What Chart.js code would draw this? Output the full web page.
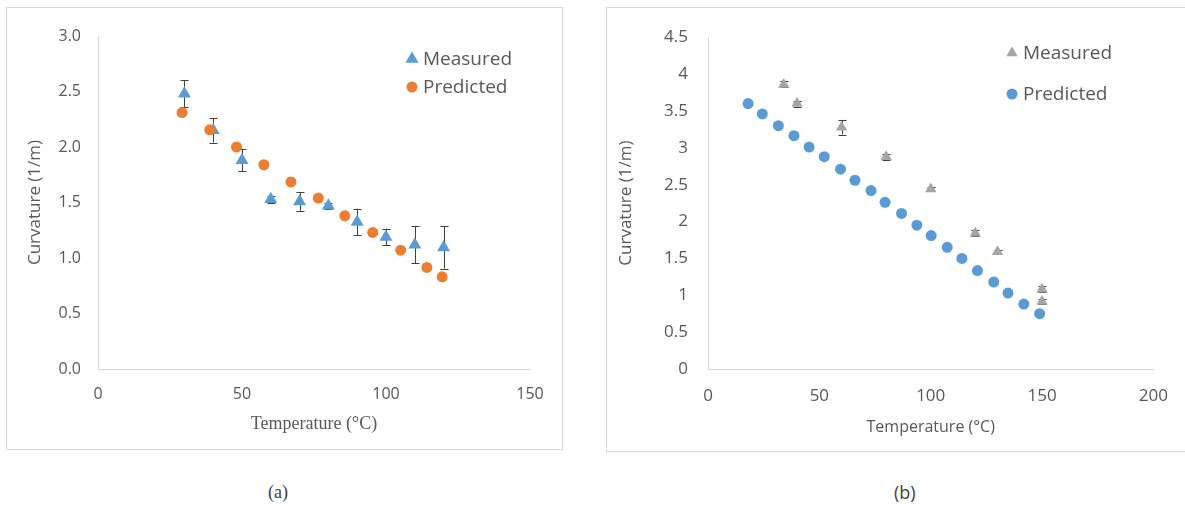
<!DOCTYPE html>
<html>
<head>
<meta charset="utf-8">
<script src="https://cdn.jsdelivr.net/npm/chart.js@4.4.0/dist/chart.umd.min.js"></script>
<style>
body { margin: 0; background: #fff; width: 1185px; height: 506px; overflow: hidden; position: relative; }
.frame { position: absolute; border: 1px solid #d9d9d9; box-sizing: border-box; }
canvas { position: absolute; }
.cap { position: absolute; color: #404040; font-size: 18px; }
</style>
</head>
<body>
<div class="frame" style="left:6px;top:7px;width:557px;height:443px"></div>
<div class="frame" style="left:606px;top:7px;width:620px;height:445px"></div>
<canvas id="chartA" width="557" height="443" style="left:6px;top:7px"></canvas>
<canvas id="chartB" width="579" height="445" style="left:606px;top:7px"></canvas>
<div class="cap" style="left:268px;top:482px;font-family:'Liberation Serif'">(a)</div>
<div class="cap" style="left:894px;top:480px;font-family:'Open Sans'">(b)</div>
<script>
// (a) data
const tempMeasuredA = [30, 40, 50, 60, 70, 80, 90, 100, 110, 120];
const curvMeasuredA = [2.48, 2.15, 1.88, 1.53, 1.51, 1.47, 1.325, 1.19, 1.12, 1.095];
const errMeasuredA = [0.12, 0.11, 0.1, 0.03, 0.085, 0.03, 0.12, 0.075, 0.165, 0.19];
const tempPredictedA = [29.2, 38.8, 48.1, 57.6, 67.0, 76.5, 85.7, 95.4, 105.1, 114.2, 119.5];
const curvPredictedA = [2.31, 2.155, 2.0, 1.84, 1.685, 1.54, 1.38, 1.23, 1.07, 0.915, 0.83];

// (b) data
const tempMeasuredB = [34, 40, 60, 80, 100, 120, 130, 150, 150];
const curvMeasuredB = [3.86, 3.60, 3.28, 2.88, 2.44, 1.84, 1.59, 1.08, 0.915];
const errMeasuredB = [0.04, 0.04, 0.1, 0.04, 0.03, 0.04, 0.03, 0.04, 0.04];
const tempPredictedB = [18, 24.4, 31.6, 38.6, 45.4, 52.2, 59.5, 66.0, 73.2, 79.5, 86.9, 93.8, 100.2, 107.4, 114.0, 121.0, 128.3, 134.7, 141.8, 148.9];
const curvPredictedB = [3.60, 3.46, 3.30, 3.165, 3.01, 2.88, 2.71, 2.56, 2.42, 2.26, 2.11, 1.95, 1.81, 1.65, 1.50, 1.335, 1.18, 1.03, 0.88, 0.75];

const seriesNames = ['Measured', 'Predicted'];
const BLUE = '#5b9bd5', ORANGE = '#ed7d31', GREY = '#a5a5a5', TEXT = '#595959';

function toPoints(xs, ys) {
    return xs.map((x, i) => ({ x: x, y: ys[i] }));
}

function drawMarker(ctx, style, x, y, r, color) {
    ctx.save();
    ctx.fillStyle = color;
    ctx.beginPath();
    if (style === 'triangle') {
        ctx.moveTo(x, y - r);
        ctx.lineTo(x + r * Math.sin(2 * Math.PI / 3), y + r / 2);
        ctx.lineTo(x - r * Math.sin(2 * Math.PI / 3), y + r / 2);
        ctx.closePath();
    } else {
        ctx.arc(x, y, r, 0, Math.PI * 2);
    }
    ctx.fill();
    ctx.restore();
}

// vertical error bars for one dataset, drawn under the markers
const errorBars = {
    id: 'errorBars',
    beforeDatasetsDraw(chart, args, opts) {
        const ctx = chart.ctx;
        const xs = chart.scales.x, ys = chart.scales.y;
        const data = chart.data.datasets[opts.datasetIndex].data;
        ctx.save();
        ctx.strokeStyle = opts.color;
        ctx.lineWidth = 1;
        data.forEach((p, i) => {
            const e = opts.errors[i];
            const px = Math.round(xs.getPixelForValue(p.x)) + 0.5;
            const top = ys.getPixelForValue(p.y + e);
            const bot = ys.getPixelForValue(p.y - e);
            ctx.beginPath();
            ctx.moveTo(px, top);
            ctx.lineTo(px, bot);
            ctx.moveTo(px - opts.cap, Math.round(top) + 0.5);
            ctx.lineTo(px + opts.cap, Math.round(top) + 0.5);
            ctx.moveTo(px - opts.cap, Math.round(bot) + 0.5);
            ctx.lineTo(px + opts.cap, Math.round(bot) + 0.5);
            ctx.stroke();
        });
        ctx.restore();
    }
};

// legend inside the plot, top right
const insideLegend = {
    id: 'insideLegend',
    afterDraw(chart, args, opts) {
        const ctx = chart.ctx;
        ctx.save();
        ctx.font = opts.font;
        ctx.fillStyle = TEXT;
        ctx.textBaseline = 'middle';
        opts.items.forEach((it, i) => {
            const y = opts.y + i * opts.gap;
            drawMarker(ctx, it.style, opts.x, y, it.r, it.color);
            ctx.fillText(it.text, opts.x + 11, y + 1);
        });
        ctx.restore();
    }
};

function makeOptions(cfg) {
    return {
        responsive: false,
        animation: false,
        layout: { padding: { top: cfg.padTop, right: cfg.padRight, bottom: 0, left: 0 } },
        plugins: {
            legend: { display: false },
            tooltip: { enabled: false },
            errorBars: cfg.errorBars,
            insideLegend: cfg.legend
        },
        scales: {
            x: {
                type: 'linear',
                min: cfg.xMax === 150 ? 0 : 0,
                max: cfg.xMax,
                afterFit: s => { s.height = cfg.xHeight; },
                ticks: { stepSize: 50, padding: cfg.xTickPad, color: TEXT, font: { family: 'Open Sans', size: cfg.tickSize } },
                grid: { display: false, drawTicks: false },
                border: { display: true, color: '#d9d9d9' },
                title: { display: true, text: 'Temperature (°C)', color: TEXT, font: cfg.xTitleFont, padding: { top: 0, bottom: cfg.xTitlePad } }
            },
            y: {
                min: 0,
                max: cfg.yMax,
                afterFit: s => { s.width = cfg.yWidth; },
                ticks: { stepSize: 0.5, padding: cfg.yTickPad, color: TEXT, font: { family: 'Open Sans', size: cfg.tickSize }, callback: cfg.yFormat },
                grid: { display: false, drawTicks: false },
                border: { display: true, color: '#d9d9d9' },
                title: { display: true, text: 'Curvature (1/m)', color: TEXT, font: { family: 'Open Sans', size: 17 }, padding: { top: cfg.yTitlePad, bottom: 0 } }
            }
        }
    };
}

new Chart(document.getElementById('chartA'), {
    type: 'scatter',
    data: {
        datasets: [
            { label: seriesNames[1], data: toPoints(tempPredictedA, curvPredictedA), order: 0,
              pointStyle: 'circle', pointRadius: 5.5, backgroundColor: ORANGE, borderWidth: 0 },
            { label: seriesNames[0], data: toPoints(tempMeasuredA, curvMeasuredA), order: 1,
              pointStyle: 'triangle', pointRadius: 7.5, backgroundColor: BLUE, borderWidth: 0 }
        ]
    },
    options: makeOptions({
        padTop: 29, padRight: 33, xHeight: 81, yWidth: 92, xMax: 150, yMax: 3,
        tickSize: 16, xTickPad: 16, yTickPad: 17, yTitlePad: 19, xTitlePad: 15,
        xTitleFont: { family: 'Liberation Serif', size: 18 },
        yFormat: v => v.toFixed(1),
        errorBars: { datasetIndex: 1, errors: errMeasuredA, cap: 4, color: '#404040' },
        legend: { x: 406, y: 52, gap: 28, font: '19px "Open Sans"', items: [
            { text: seriesNames[0], style: 'triangle', r: 7.5, color: BLUE },
            { text: seriesNames[1], style: 'circle', r: 5.5, color: ORANGE }
        ] }
    }),
    plugins: [errorBars, insideLegend]
});

new Chart(document.getElementById('chartB'), {
    type: 'scatter',
    data: {
        datasets: [
            { label: seriesNames[0], data: toPoints(tempMeasuredB, curvMeasuredB), order: 0,
              pointStyle: 'triangle', pointRadius: 6.5, backgroundColor: GREY, borderWidth: 0 },
            { label: seriesNames[1], data: toPoints(tempPredictedB, curvPredictedB), order: 1,
              pointStyle: 'circle', pointRadius: 5.5, backgroundColor: BLUE, borderWidth: 0 }
        ]
    },
    options: makeOptions({
        padTop: 30, padRight: 27, xHeight: 83, yWidth: 102, xMax: 200, yMax: 4.5,
        tickSize: 17, xTickPad: 17, yTickPad: 20, yTitlePad: 10, xTitlePad: 15,
        xTitleFont: { family: 'Open Sans', size: 16 },
        yFormat: v => (Number.isInteger(v) ? String(v) : v.toFixed(1)),
        errorBars: { datasetIndex: 0, errors: errMeasuredB, cap: 4, color: '#404040' },
        legend: { x: 406, y: 46, gap: 41, font: '19px "Open Sans"', items: [
            { text: seriesNames[0], style: 'triangle', r: 6.5, color: GREY },
            { text: seriesNames[1], style: 'circle', r: 5.5, color: BLUE }
        ] }
    }),
    plugins: [errorBars, insideLegend]
});
</script>
</body>
</html>
